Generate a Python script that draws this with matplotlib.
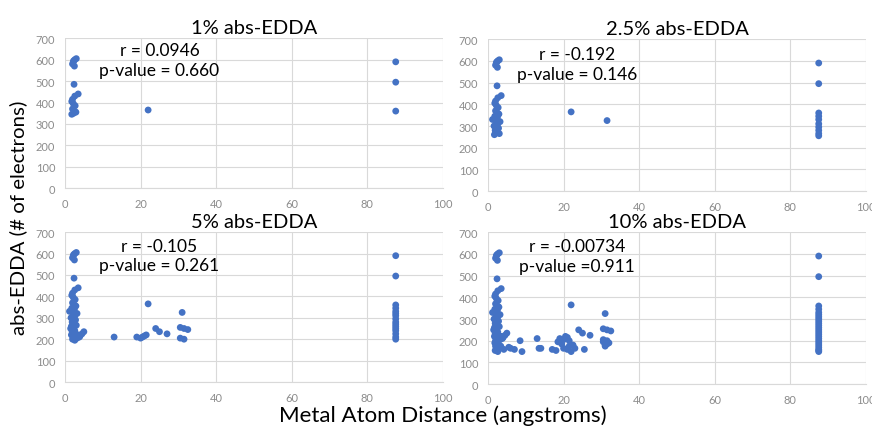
import matplotlib.pyplot as plt

# distances (angstroms) and abs-EDDA values (# of electrons)
dist_1 = [2.0, 2.3, 2.6, 3.0, 2.2, 2.5, 2.4, 3.5, 2.6, 2.0, 1.8, 2.2, 2.7, 2.0,
          2.5, 2.9, 1.8, 2.3, 22.0, 87.5, 87.5, 87.5]
edda_1 = [580, 595, 600, 605, 590, 570, 485, 440, 430, 415, 405, 395, 385, 370,
          360, 355, 345, 350, 365, 590, 495, 360]

dist_2 = [2.0, 2.3, 2.6, 3.0, 2.2, 2.5, 2.4, 3.5, 2.6, 2.0, 1.8, 2.2, 2.7, 2.0,
          2.5, 2.9, 1.8, 2.3, 1.2, 3.2, 2.0, 2.6, 1.6, 2.8, 2.2, 1.9, 2.4, 2.1,
          3.0, 1.7, 2.5, 2.0, 2.3, 22.0, 31.5,
          87.5, 87.5, 87.5, 87.5, 87.5, 87.5, 87.5, 87.5, 87.5, 87.5]
edda_2 = [580, 595, 600, 605, 590, 570, 485, 440, 430, 415, 405, 395, 385, 370,
          360, 355, 345, 350, 330, 320, 325, 310, 300, 290, 285, 280, 275, 270,
          265, 260, 340, 335, 300, 365, 325,
          590, 495, 360, 345, 330, 310, 295, 280, 265, 255]

dist_3 = [2.0, 2.3, 2.6, 3.0, 2.2, 2.5, 2.4, 3.5, 2.6, 2.0, 1.8, 2.2, 2.7, 2.0,
          2.5, 2.9, 1.8, 2.3, 1.2, 3.2, 2.0, 2.6, 1.6, 2.8, 2.2, 1.9, 2.4, 2.1,
          3.0, 1.7, 2.5, 2.0, 2.3, 1.5, 2.1, 2.6, 1.9, 2.4, 2.8, 1.7, 2.2, 2.5,
          3.0, 2.0, 2.6, 3.5, 4.0, 4.5, 5.0, 3.2, 3.8,
          13.0, 19.0, 20.0, 20.5, 21.0, 21.5, 22.0, 24.0, 25.0, 27.0,
          30.5, 31.0, 31.5, 30.5, 31.5, 32.5,
          87.5, 87.5, 87.5, 87.5, 87.5, 87.5, 87.5, 87.5, 87.5, 87.5,
          87.5, 87.5, 87.5, 87.5, 87.5, 87.5]
edda_3 = [580, 595, 600, 605, 590, 570, 485, 440, 430, 415, 405, 395, 385, 370,
          360, 355, 345, 350, 330, 320, 325, 310, 300, 290, 285, 280, 275, 270,
          265, 260, 340, 335, 300, 250, 245, 240, 235, 230, 225, 220, 215, 210,
          205, 200, 195, 220, 215, 225, 235, 205, 210,
          210, 210, 205, 210, 215, 220, 365, 250, 235, 225,
          255, 325, 250, 205, 200, 245,
          590, 495, 360, 345, 330, 320, 310, 295, 280, 270, 260, 250, 240,
          225, 210, 200]

dist_4 = [2.0, 2.3, 2.6, 3.0, 2.2, 2.5, 2.4, 3.5, 2.6, 2.0, 1.8, 2.2, 2.7, 2.0,
          2.5, 2.9, 1.8, 2.3, 1.2, 3.2, 2.0, 2.6, 1.6, 2.8, 2.2, 1.9, 2.4, 2.1,
          3.0, 1.7, 2.5, 2.0, 2.3, 1.5, 2.1, 2.6, 1.9, 2.4, 2.8, 1.7, 2.2, 2.5,
          3.0, 2.0, 2.6, 3.5, 4.0, 4.5, 5.0, 3.2, 3.8,
          1.8, 2.3, 2.7, 2.0, 2.5, 3.0, 2.2, 1.9, 2.6, 3.4, 4.2, 5.5, 6.0,
          7.0, 8.5, 9.0,
          13.0, 13.5, 14.0, 17.0, 18.0, 18.5, 19.0, 19.5, 20.0, 20.5, 21.0,
          21.5, 22.0, 22.5, 23.0, 25.5, 19.0, 20.0, 20.5, 21.0, 21.5, 22.0,
          24.0, 25.0, 27.0,
          30.5, 31.0, 31.5, 30.5, 31.5, 32.5, 31.0, 31.5, 32.0, 30.5, 31.0,
          87.5, 87.5, 87.5, 87.5, 87.5, 87.5, 87.5, 87.5, 87.5, 87.5,
          87.5, 87.5, 87.5, 87.5, 87.5, 87.5, 87.5, 87.5, 87.5, 87.5,
          87.5, 87.5, 87.5, 87.5]
edda_4 = [580, 595, 600, 605, 590, 570, 485, 440, 430, 415, 405, 395, 385, 370,
          360, 355, 345, 350, 330, 320, 325, 310, 300, 290, 285, 280, 275, 270,
          265, 260, 340, 335, 300, 250, 245, 240, 235, 230, 225, 220, 215, 210,
          205, 200, 195, 220, 215, 225, 235, 205, 210,
          190, 185, 180, 175, 170, 165, 160, 155, 150, 175, 160, 170, 165,
          160, 200, 150,
          210, 165, 165, 160, 155, 195, 200, 185, 165, 220, 160,
          175, 150, 180, 165, 160, 210, 205, 210, 215, 200, 365,
          250, 235, 225,
          255, 325, 250, 205, 200, 245, 175, 185, 190, 195, 180,
          590, 495, 360, 345, 330, 320, 310, 300, 290, 280, 270, 260, 250,
          240, 230, 220, 210, 200, 190, 180, 170, 160, 155, 150]

titles = ['1% abs-EDDA', '2.5% abs-EDDA', '5% abs-EDDA', '10% abs-EDDA']
notes = [('r = 0.0946', 'p-value = 0.660'),
         ('r = -0.192', 'p-value = 0.146'),
         ('r = -0.105', 'p-value = 0.261'),
         ('r = -0.00734', 'p-value =0.911')]
panels = [(dist_1, edda_1), (dist_2, edda_2), (dist_3, edda_3), (dist_4, edda_4)]

plt.rcParams['font.family'] = ['Lato', 'DejaVu Sans']
fig = plt.figure(figsize=(8.72, 4.27), dpi=100)

# axes boxes in figure fractions: left, bottom, width, height
boxes = [(0.0745, 0.557, 0.4335, 0.351),
         (0.5596, 0.550, 0.4335, 0.356),
         (0.0745, 0.103, 0.4335, 0.351),
         (0.5596, 0.098, 0.4335, 0.356)]
# x centre, baseline of the r line, baseline of the p-value line (data units)
note_pos = [(25, 622, 527), (23.5, 610, 517), (25, 612, 522), (23.5, 611, 522)]

for i in range(4):
    ax = fig.add_axes(boxes[i])
    x, y = panels[i]
    ax.scatter(x, y, s=24, color='#4472C4', edgecolors='none', zorder=3, clip_on=False)
    ax.set_xlim(0, 100)
    ax.set_ylim(0, 700)
    ax.set_xticks(range(0, 101, 20))
    ax.set_yticks(range(0, 701, 100))
    ax.grid(True, color='#d9d9d9', linewidth=0.8, zorder=0)
    ax.set_axisbelow(True)
    for s in ax.spines.values():
        s.set_visible(False)
    ax.spines['bottom'].set_visible(True)
    ax.spines['bottom'].set_color('#d9d9d9')
    ax.tick_params(length=0, labelsize=8, labelcolor='#8c8c8c', pad=7)
    ax.set_title(titles[i], fontsize=14.5, pad=3.5)
    nx, ry, py = note_pos[i]
    ax.text(nx, ry, notes[i][0], ha='center', va='baseline', fontsize=12.5)
    ax.text(nx, py, notes[i][1], ha='center', va='baseline', fontsize=12.5)

fig.text(0.021, 0.49, 'abs-EDDA (# of electrons)', rotation=90, ha='center',
         va='center', fontsize=14.7)
fig.text(0.508, 0.026, 'Metal Atom Distance (angstroms)', ha='center',
         va='center', fontsize=16)

fig.savefig('out.png', dpi=100)
